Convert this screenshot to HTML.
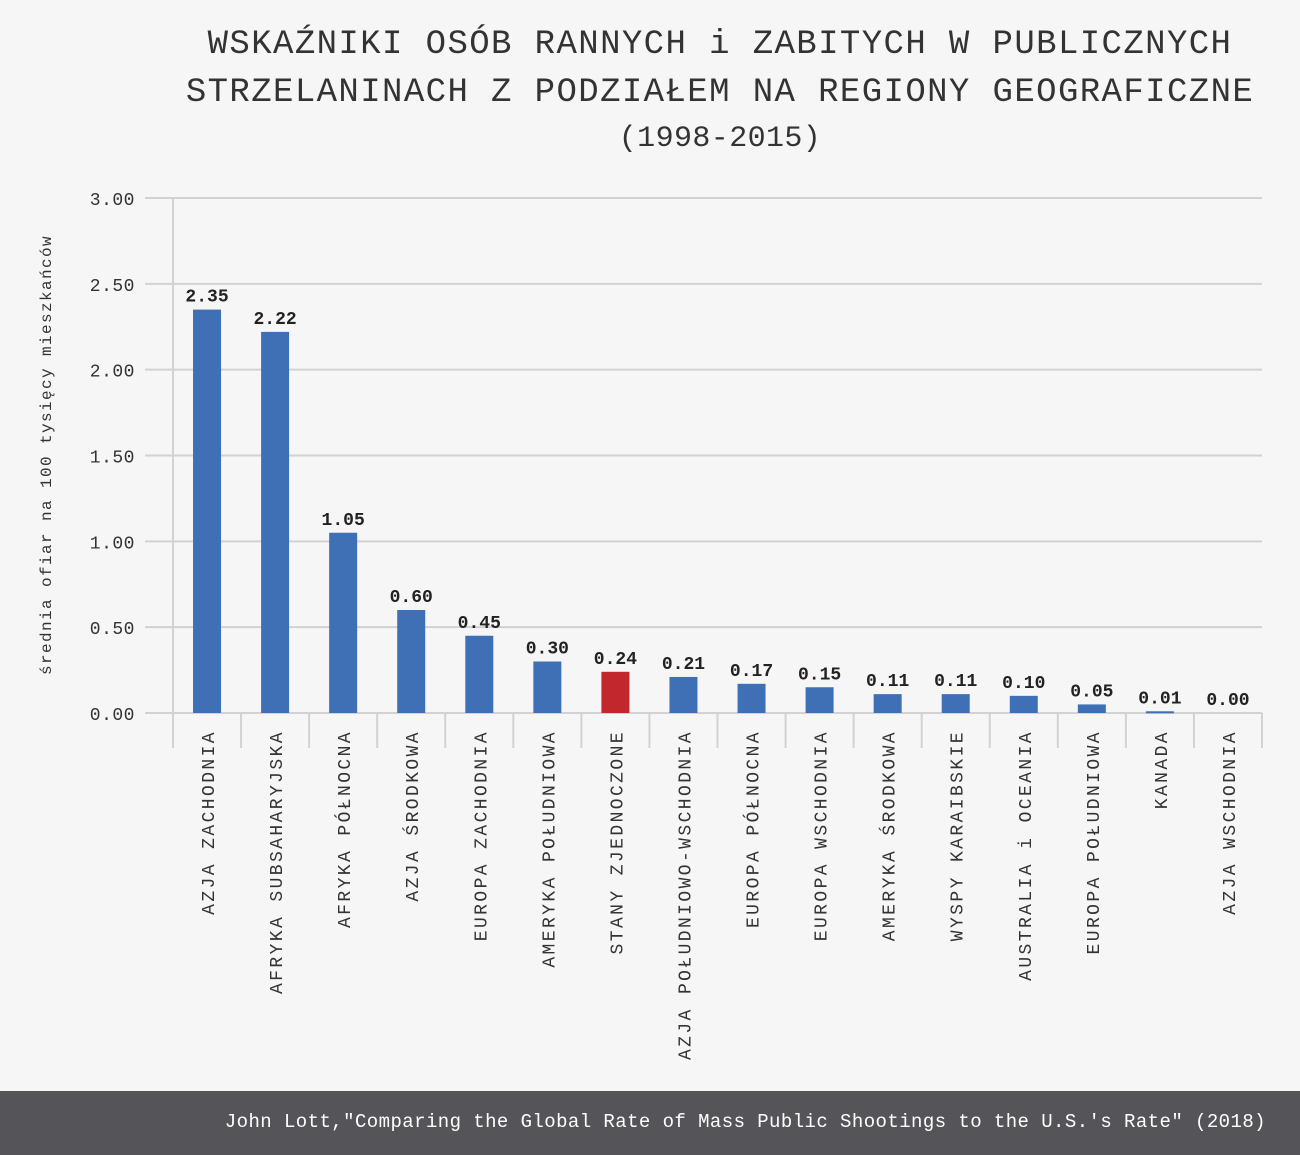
<!DOCTYPE html>
<html><head><meta charset="utf-8"><style>
html,body{margin:0;padding:0;background:#f6f6f6;}
body{width:1300px;height:1155px;position:relative;overflow:hidden;font-family:"Liberation Mono","DejaVu Sans Mono",monospace;}
.title{position:absolute;left:0;width:1440px;text-align:center;color:#333;font-size:34px;letter-spacing:1.4px;white-space:nowrap;}
.footer{position:absolute;left:0;top:1091px;width:1300px;height:64px;background:#555559;}
.footer span{position:absolute;right:34px;top:20px;color:#fff;font-size:19px;letter-spacing:0.43px;white-space:nowrap;}
</style></head><body>
<div class="title" style="top:26px;">WSKAŹNIKI OSÓB RANNYCH i ZABITYCH W PUBLICZNYCH</div>
<div class="title" style="top:74px;">STRZELANINACH Z PODZIAŁEM NA REGIONY GEOGRAFICZNE</div>
<div class="title" style="top:122px;font-size:30px;letter-spacing:0.4px;">(1998-2015)</div>
<svg id="chart" width="1300" height="1091" style="position:absolute;left:0;top:0;"></svg>
<div class="footer"><span>John Lott,"Comparing the Global Rate of Mass Public Shootings to the U.S.'s Rate" (2018)</span></div>
<script>
const categories=["AZJA ZACHODNIA","AFRYKA SUBSAHARYJSKA","AFRYKA PÓŁNOCNA","AZJA ŚRODKOWA","EUROPA ZACHODNIA","AMERYKA POŁUDNIOWA","STANY ZJEDNOCZONE","AZJA POŁUDNIOWO-WSCHODNIA","EUROPA PÓŁNOCNA","EUROPA WSCHODNIA","AMERYKA ŚRODKOWA","WYSPY KARAIBSKIE","AUSTRALIA i OCEANIA","EUROPA POŁUDNIOWA","KANADA","AZJA WSCHODNIA"];
const values=[2.35,2.22,1.05,0.60,0.45,0.30,0.24,0.21,0.17,0.15,0.11,0.11,0.10,0.05,0.01,0.00];
const highlight=["STANY ZJEDNOCZONE"];
const yTicks=[0,0.5,1,1.5,2,2.5,3];
const svg=document.getElementById('chart');
const NS='http://www.w3.org/2000/svg';
const x0=173,x1=1262,yBase=713,yTop=198,yMax=3;
const band=(x1-x0)/categories.length;
const y=v=>yBase-(v/yMax)*(yBase-yTop);
const xc=i=>x0+band*(i+0.5);
function mk(t,a){const e=document.createElementNS(NS,t);for(const k in a)e.setAttribute(k,a[k]);svg.appendChild(e);return e;}
yTicks.forEach(t=>{
  const l=mk('line',{x1:145,x2:x1,y1:y(t),y2:y(t),stroke:'#d2d2d2','stroke-width':2});
  
  
  const tx=mk('text',{x:135,y:y(t)+7,'text-anchor':'end','font-size':18,fill:'#333','letter-spacing':0.5});
  tx.textContent=t.toFixed(2);
  
  
});
const ax=mk('line',{x1:x0,x2:x0,y1:yTop,y2:748,stroke:'#d2d2d2','stroke-width':2});


for(let i=1;i<=categories.length;i++){
  const tk=mk('line',{x1:x0+band*i,x2:x0+band*i,y1:yBase,y2:748,stroke:'#d2d2d2','stroke-width':2});
  
  
}
categories.forEach((c,i)=>{
  const v=values[i],bw=28;
  const r=mk('rect',{x:xc(i)-bw/2,y:y(v),width:bw,height:Math.max(yBase-y(v),v>0?2:0),fill:highlight.includes(c)?'#c1272d':'#3f70b6'});
  
  
  const vl=mk('text',{x:xc(i),y:y(v)-8,'text-anchor':'middle','font-size':18,'font-weight':'bold',fill:'#222'});
  vl.textContent=v.toFixed(2);
  
  
  const cl=mk('text',{transform:`translate(${xc(i)+7},730) rotate(-90)`,'text-anchor':'end','font-size':18,fill:'#333','letter-spacing':2.4});
  cl.textContent=c;
  
  
});
const yt=mk('text',{transform:'translate(51,455) rotate(-90)','text-anchor':'middle','font-size':16,fill:'#333','letter-spacing':1.4});
yt.textContent='średnia ofiar na 100 tysięcy mieszkańców';


</script>
</body></html>
